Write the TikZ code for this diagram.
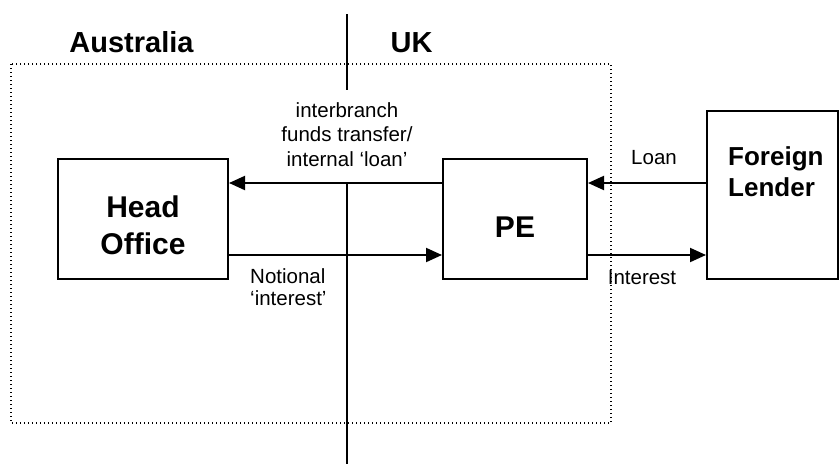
\documentclass[tikz,border=0pt]{standalone}
\usepackage{fontspec}
\setmainfont{Liberation Sans}
\usetikzlibrary{arrows.meta}
\begin{document}
\begin{tikzpicture}[x=1pt,y=-1pt,
  box/.style={draw,line width=2pt,inner sep=0pt},
  flow/.style={line width=2pt,-{Triangle[length=16pt,width=14pt]}},
  lbl/.style={font=\fontsize{20.5}{24.5}\selectfont,inner sep=0pt},
  big/.style={font=\fontsize{29}{37}\selectfont\bfseries,inner sep=0pt},
  region/.style={line width=1.3pt,dash pattern=on 1.3pt off 2.7pt}]
\useasboundingbox (0,0) rectangle (840,464);
% dotted region
\draw[region] (11,64) rectangle (611,423);
% border line
\coordinate (b1) at (347,14);
\coordinate (b2) at (347,90);
\coordinate (b3) at (347,183);
\coordinate (b4) at (347,464);
\draw[line width=2.5pt] (b1) -- (b2);
\draw[line width=2.5pt] (b3) -- (b4);
% boxes
\node[box,minimum width=170pt,minimum height=120pt] (ho) at (143,219) {};
\node[box,minimum width=144pt,minimum height=120pt] (pe) at (515,219) {};
\node[box,minimum width=131pt,minimum height=168pt] (fl) at (772.5,195) {};
% box texts
\node[big,font=\fontsize{30}{37}\selectfont\bfseries,align=center,anchor=base] (hot) at (143,254) {Head\\Office};
\node[big,font=\fontsize{30}{36}\selectfont\bfseries,anchor=base] (pet) at (515,237) {PE};
\node[big,font=\fontsize{26}{31}\selectfont\bfseries,anchor=base west,align=left] (flt) at (728,196) {Foreign\\Lender};
% headings
\node[big,anchor=base] (aus) at (131.5,52.7) {Australia};
\node[big,anchor=base] (uk) at (411.5,52.7) {UK};
% arrows
\draw[flow] (pe.west |- 0,183) -- (ho.east |- 0,183);
\draw[flow] (ho.east |- 0,255) -- (pe.west |- 0,255);
\draw[flow] (fl.west |- 0,183) -- (pe.east |- 0,183);
\draw[flow] (pe.east |- 0,255) -- (fl.west |- 0,255);
% labels
\node[lbl,align=center,anchor=base] (ib) at (347,166) {interbranch\\funds transfer/\\internal ‘loan’};
\node[lbl,align=left,anchor=base west,font=\fontsize{20.5}{22}\selectfont] (ni) at (250,305) {Notional\\‘interest’};
\node[lbl,anchor=base] (loan) at (654,164) {Loan};
\node[lbl,anchor=base] (int) at (642,284) {Interest};
\end{tikzpicture}
\end{document}
